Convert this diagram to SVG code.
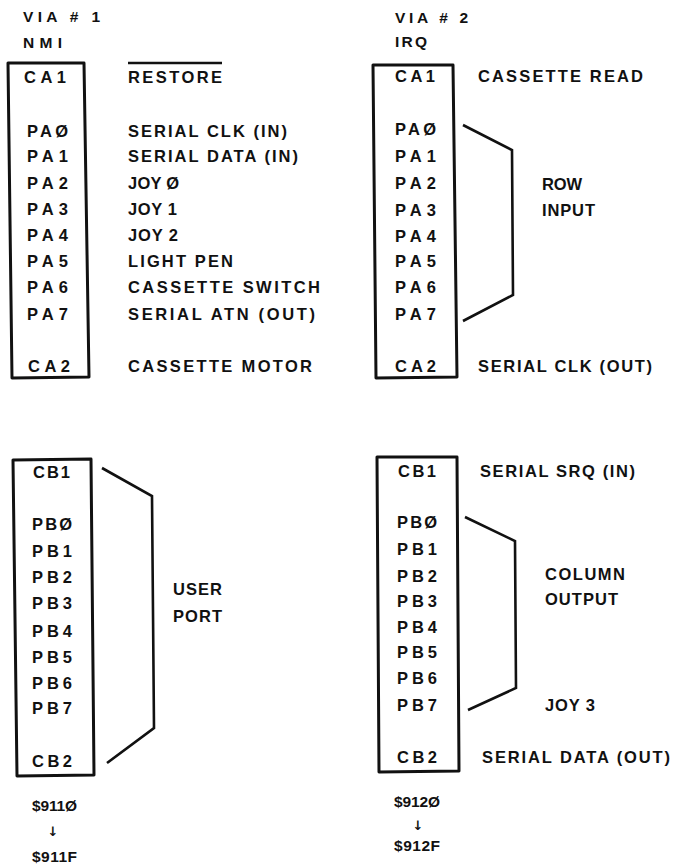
<svg xmlns="http://www.w3.org/2000/svg" width="678" height="865" viewBox="0 0 678 865">
<style>
.t{font-family:"Liberation Sans",Arial,sans-serif;font-weight:bold;font-size:16.5px;fill:#111}
.h{font-size:15.5px}
.ar{font-family:"DejaVu Sans",sans-serif;font-weight:bold;font-size:13px;fill:#111}
.box{fill:none;stroke:#111;stroke-width:3;stroke-linejoin:round}
.br{fill:none;stroke:#111;stroke-width:2.6;stroke-linejoin:miter}
</style>
<rect width="678" height="865" fill="#fff"/>

<g id="via1">
<text class="t h" x="23" y="22" textLength="77" lengthAdjust="spacing">VIA # 1</text>
<text class="t h" x="23" y="48" textLength="39" lengthAdjust="spacing">NMI</text>
<polygon class="box" points="8,63 84,63 89,377 12,378"/>
<text class="t" x="24" y="83" textLength="42" lengthAdjust="spacing">CA1</text>
<text class="t" x="27" y="137" textLength="41" lengthAdjust="spacing">PAØ</text>
<text class="t" x="27" y="162" textLength="41" lengthAdjust="spacing">PA1</text>
<text class="t" x="27" y="189" textLength="41" lengthAdjust="spacing">PA2</text>
<text class="t" x="27" y="215" textLength="41" lengthAdjust="spacing">PA3</text>
<text class="t" x="27" y="241" textLength="41" lengthAdjust="spacing">PA4</text>
<text class="t" x="27" y="267" textLength="41" lengthAdjust="spacing">PA5</text>
<text class="t" x="27" y="293" textLength="41" lengthAdjust="spacing">PA6</text>
<text class="t" x="27" y="320" textLength="41" lengthAdjust="spacing">PA7</text>
<text class="t" x="28" y="372" textLength="42" lengthAdjust="spacing">CA2</text>
<line x1="128" y1="63" x2="222" y2="63" stroke="#111" stroke-width="2.5"/>
<text class="t" x="128" y="83" textLength="94" lengthAdjust="spacing">RESTORE</text>
<text class="t" x="128" y="137" textLength="159" lengthAdjust="spacing">SERIAL CLK (IN)</text>
<text class="t" x="128" y="162" textLength="170" lengthAdjust="spacing">SERIAL DATA (IN)</text>
<text class="t" x="128" y="189" textLength="51" lengthAdjust="spacing">JOY Ø</text>
<text class="t" x="128" y="215" textLength="49" lengthAdjust="spacing">JOY 1</text>
<text class="t" x="128" y="241" textLength="50" lengthAdjust="spacing">JOY 2</text>
<text class="t" x="128" y="267" textLength="105" lengthAdjust="spacing">LIGHT PEN</text>
<text class="t" x="128" y="293" textLength="192" lengthAdjust="spacing">CASSETTE SWITCH</text>
<text class="t" x="128" y="320" textLength="187" lengthAdjust="spacing">SERIAL ATN (OUT)</text>
<text class="t" x="128" y="372" textLength="184" lengthAdjust="spacing">CASSETTE MOTOR</text>
</g>

<g id="via2">
<text class="t h" x="395" y="23" textLength="73" lengthAdjust="spacing">VIA # 2</text>
<text class="t h" x="395" y="47" textLength="32" lengthAdjust="spacing">IRQ</text>
<polygon class="box" points="373,65 453,65 457,377 376,378"/>
<text class="t" x="395" y="82" textLength="40" lengthAdjust="spacing">CA1</text>
<text class="t" x="395" y="135" textLength="41" lengthAdjust="spacing">PAØ</text>
<text class="t" x="395" y="162" textLength="41" lengthAdjust="spacing">PA1</text>
<text class="t" x="395" y="189" textLength="41" lengthAdjust="spacing">PA2</text>
<text class="t" x="395" y="216" textLength="41" lengthAdjust="spacing">PA3</text>
<text class="t" x="395" y="242" textLength="41" lengthAdjust="spacing">PA4</text>
<text class="t" x="395" y="267" textLength="41" lengthAdjust="spacing">PA5</text>
<text class="t" x="395" y="293" textLength="41" lengthAdjust="spacing">PA6</text>
<text class="t" x="395" y="320" textLength="41" lengthAdjust="spacing">PA7</text>
<text class="t" x="395" y="372" textLength="41" lengthAdjust="spacing">CA2</text>
<text class="t" x="478" y="82" textLength="165" lengthAdjust="spacing">CASSETTE READ</text>
<text class="t" x="542" y="190" textLength="40" lengthAdjust="spacing">ROW</text>
<text class="t" x="542" y="216" textLength="53" lengthAdjust="spacing">INPUT</text>
<text class="t" x="478" y="372" textLength="174" lengthAdjust="spacing">SERIAL CLK (OUT)</text>
</g>

<g id="via1b">
<polygon class="box" points="13,460 91,459 94,775 17,776"/>
<text class="t" x="33" y="478" textLength="37" lengthAdjust="spacing">CB1</text>
<text class="t" x="32" y="530" textLength="40" lengthAdjust="spacing">PBØ</text>
<text class="t" x="32" y="557" textLength="40" lengthAdjust="spacing">PB1</text>
<text class="t" x="32" y="583" textLength="40" lengthAdjust="spacing">PB2</text>
<text class="t" x="32" y="609" textLength="40" lengthAdjust="spacing">PB3</text>
<text class="t" x="32" y="637" textLength="40" lengthAdjust="spacing">PB4</text>
<text class="t" x="32" y="663" textLength="40" lengthAdjust="spacing">PB5</text>
<text class="t" x="32" y="689" textLength="40" lengthAdjust="spacing">PB6</text>
<text class="t" x="32" y="714" textLength="40" lengthAdjust="spacing">PB7</text>
<text class="t" x="32" y="767" textLength="40" lengthAdjust="spacing">CB2</text>
<text class="t" x="173" y="595" textLength="49" lengthAdjust="spacing">USER</text>
<text class="t" x="173" y="622" textLength="49" lengthAdjust="spacing">PORT</text>
<text class="t h" x="32" y="811" textLength="45" lengthAdjust="spacing">$911Ø</text>
<text class="ar" x="53" y="836" text-anchor="middle">↓</text>
<text class="t h" x="32" y="862" textLength="45" lengthAdjust="spacing">$911F</text>
</g>

<g id="via2b">
<polygon class="box" points="377,457 457,457 459,771 379,772"/>
<text class="t" x="398" y="477" textLength="38" lengthAdjust="spacing">CB1</text>
<text class="t" x="397" y="528" textLength="40" lengthAdjust="spacing">PBØ</text>
<text class="t" x="397" y="555" textLength="40" lengthAdjust="spacing">PB1</text>
<text class="t" x="397" y="582" textLength="40" lengthAdjust="spacing">PB2</text>
<text class="t" x="397" y="607" textLength="40" lengthAdjust="spacing">PB3</text>
<text class="t" x="397" y="633" textLength="40" lengthAdjust="spacing">PB4</text>
<text class="t" x="397" y="658" textLength="40" lengthAdjust="spacing">PB5</text>
<text class="t" x="397" y="684" textLength="40" lengthAdjust="spacing">PB6</text>
<text class="t" x="397" y="711" textLength="40" lengthAdjust="spacing">PB7</text>
<text class="t" x="397" y="763" textLength="40" lengthAdjust="spacing">CB2</text>
<text class="t" x="480" y="477" textLength="155" lengthAdjust="spacing">SERIAL SRQ (IN)</text>
<text class="t" x="545" y="580" textLength="80" lengthAdjust="spacing">COLUMN</text>
<text class="t" x="545" y="605" textLength="73" lengthAdjust="spacing">OUTPUT</text>
<text class="t" x="545" y="711" textLength="50" lengthAdjust="spacing">JOY 3</text>
<text class="t" x="482" y="763" textLength="188" lengthAdjust="spacing">SERIAL DATA (OUT)</text>
<text class="t h" x="394" y="807" textLength="46" lengthAdjust="spacing">$912Ø</text>
<text class="ar" x="418" y="830" text-anchor="middle">↓</text>
<text class="t h" x="394" y="851" textLength="46" lengthAdjust="spacing">$912F</text>
</g>

<g id="connectors">
<polyline class="br" points="463,125 512,150 513,295 463,321"/>
<polyline class="br" points="102,468 152,496 154,728 107,763"/>
<polyline class="br" points="465,517 515,541 516,688 468,710"/>
</g>
</svg>
